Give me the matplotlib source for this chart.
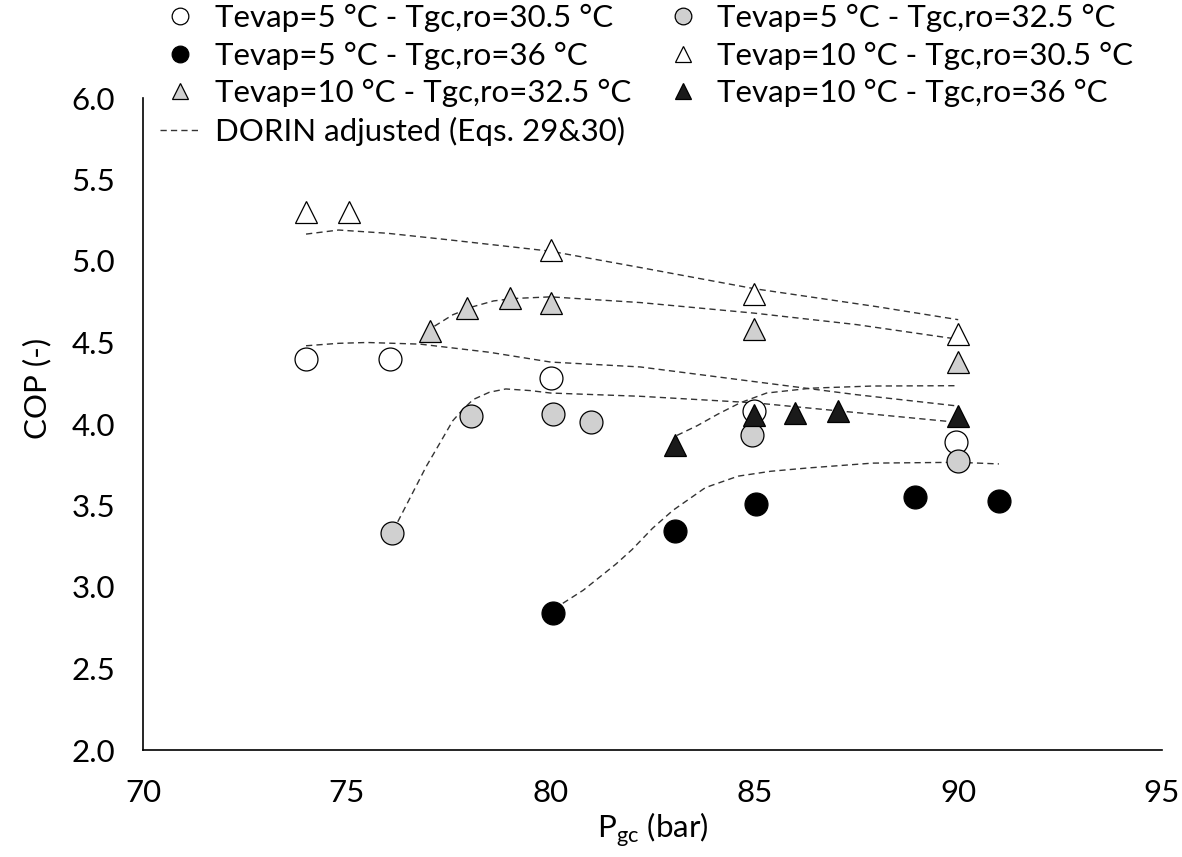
import matplotlib
matplotlib.use("Agg")
import matplotlib.pyplot as plt
from matplotlib.lines import Line2D

plt.rcParams['font.family'] = ['Lato', 'DejaVu Sans']

# measured points (P_gc in bar, COP)
p_5_305 = [74.0, 76.05, 80.0, 85.0, 89.95]
cop_5_305 = [4.40, 4.40, 4.28, 4.08, 3.89]

p_5_325 = [76.1, 78.05, 80.05, 81.0, 84.95, 90.0]
cop_5_325 = [3.33, 4.05, 4.06, 4.01, 3.93, 3.77]

p_5_36 = [80.05, 83.05, 85.05, 88.95, 91.0]
cop_5_36 = [2.84, 3.345, 3.51, 3.55, 3.53]

p_10_305 = [74.0, 75.05, 80.0, 85.0, 90.0]
cop_10_305 = [5.30, 5.30, 5.07, 4.80, 4.55]

p_10_325 = [77.05, 77.95, 79.0, 80.0, 85.0, 90.0]
cop_10_325 = [4.57, 4.71, 4.775, 4.74, 4.58, 4.38]

p_10_36 = [83.05, 85.0, 86.0, 87.05, 90.0]
cop_10_36 = [3.87, 4.055, 4.07, 4.08, 4.05]

# DORIN adjusted curves
fit_10_305_p = [74.0, 74.8, 76.0, 77.5, 80.0, 82.2, 85.0, 88.0, 90.0]
fit_10_305_c = [5.165, 5.19, 5.17, 5.13, 5.06, 4.96, 4.83, 4.72, 4.64]

fit_10_325_p = [77.15, 77.6, 78.1, 78.6, 79.1, 80.0, 82.2, 85.0, 87.5, 90.0]
fit_10_325_c = [4.60, 4.67, 4.72, 4.755, 4.77, 4.78, 4.745, 4.68, 4.61, 4.52]

fit_5_305_p = [74.0, 74.8, 75.5, 76.8, 78.5, 80.0, 82.2, 85.0, 87.5, 90.0]
fit_5_305_c = [4.48, 4.495, 4.50, 4.49, 4.44, 4.38, 4.35, 4.26, 4.18, 4.11]

fit_5_325_p = [76.25, 76.6, 76.95, 77.3, 77.6, 77.85, 78.1, 78.5, 78.9, 79.5, 80.0, 82.2, 85.0, 87.5, 90.0]
fit_5_325_c = [3.40, 3.57, 3.74, 3.89, 4.02, 4.09, 4.15, 4.195, 4.215, 4.205, 4.19, 4.17, 4.13, 4.07, 4.01]

fit_10_36_p = [83.1, 83.6, 84.1, 84.65, 85.3, 86.4, 87.9, 90.0]
fit_10_36_c = [3.93, 3.99, 4.06, 4.13, 4.19, 4.22, 4.233, 4.235]

fit_5_36_p = [80.3, 80.8, 81.2, 81.6, 82.0, 82.5, 83.0, 83.8, 84.6, 85.4, 86.3, 87.9, 90.0, 91.0]
fit_5_36_c = [2.90, 2.98, 3.06, 3.14, 3.23, 3.36, 3.47, 3.61, 3.68, 3.71, 3.73, 3.76, 3.765, 3.755]

grey = '#d0d0d0'
ms = 16.5
mew = 0.9
fs = 22.5

fig = plt.figure(figsize=(11.82, 8.57), dpi=100)
ax = fig.add_axes([143 / 1182, 1 - 750 / 857, (1162 - 143) / 1182, (750 - 98) / 857])

dash = dict(color='#333333', lw=1.0, dashes=(4.5, 3))
for fp, fc in [(fit_10_305_p, fit_10_305_c), (fit_10_325_p, fit_10_325_c),
               (fit_5_305_p, fit_5_305_c), (fit_5_325_p, fit_5_325_c),
               (fit_10_36_p, fit_10_36_c), (fit_5_36_p, fit_5_36_c)]:
    ax.plot(fp, fc, zorder=2, **dash)

series = [
    (p_5_305, cop_5_305, 'o', 'white', 'Tevap=5 °C - Tgc,ro=30.5 °C'),
    (p_5_325, cop_5_325, 'o', grey, 'Tevap=5 °C - Tgc,ro=32.5 °C'),
    (p_5_36, cop_5_36, 'o', 'black', 'Tevap=5 °C - Tgc,ro=36 °C'),
    (p_10_305, cop_10_305, '^', 'white', 'Tevap=10 °C - Tgc,ro=30.5 °C'),
    (p_10_325, cop_10_325, '^', grey, 'Tevap=10 °C - Tgc,ro=32.5 °C'),
    (p_10_36, cop_10_36, '^', '#1a1a1a', 'Tevap=10 °C - Tgc,ro=36 °C'),
]
handles = {}
for px, py, mk, fc, lab in series:
    ax.plot(px, py, ls='none', marker=mk, ms=ms, mfc=fc, mec='black', mew=mew, zorder=3)
    handles[lab] = Line2D([], [], ls='none', marker=mk, ms=12, mfc=fc, mec='black', mew=mew)
fit_handle = Line2D([], [], **dash)

ax.set_xlim(70, 95)
ax.set_ylim(2.0, 6.0)
ax.set_xticks([70, 75, 80, 85, 90, 95])
ax.set_yticks([2.0, 2.5, 3.0, 3.5, 4.0, 4.5, 5.0, 5.5, 6.0])
ax.set_yticklabels([f'{v:.1f}' for v in ax.get_yticks()])
ax.tick_params(length=0, labelsize=fs)
ax.tick_params(axis='y', pad=20)
ax.tick_params(axis='x', pad=21)
for s in ['top', 'right']:
    ax.spines[s].set_visible(False)
for s in ['left', 'bottom']:
    ax.spines[s].set_linewidth(1.2)

ax.set_xlabel('P$_\\mathregular{gc}$ (bar)', fontsize=fs, labelpad=2)
ax.set_ylabel('COP (-)', fontsize=fs)
ax.yaxis.set_label_coords(-0.09, 0.555)

labels = [s[4] for s in series]
order = [labels[0], labels[2], labels[4], None, labels[1], labels[3], labels[5]]
hs = [handles[l] if l else fit_handle for l in order]
ls = [l if l else 'DORIN adjusted (Eqs. 29&30)' for l in order]
fig.legend(hs, ls, ncol=2, loc='upper left', bbox_to_anchor=(160 / 1182, 1 - 4 / 857),
           frameon=False, fontsize=fs, handlelength=1.3, handletextpad=0.45,
           columnspacing=1.0, labelspacing=0.3, borderaxespad=0, borderpad=0)

fig.savefig('out.png', dpi=100)
